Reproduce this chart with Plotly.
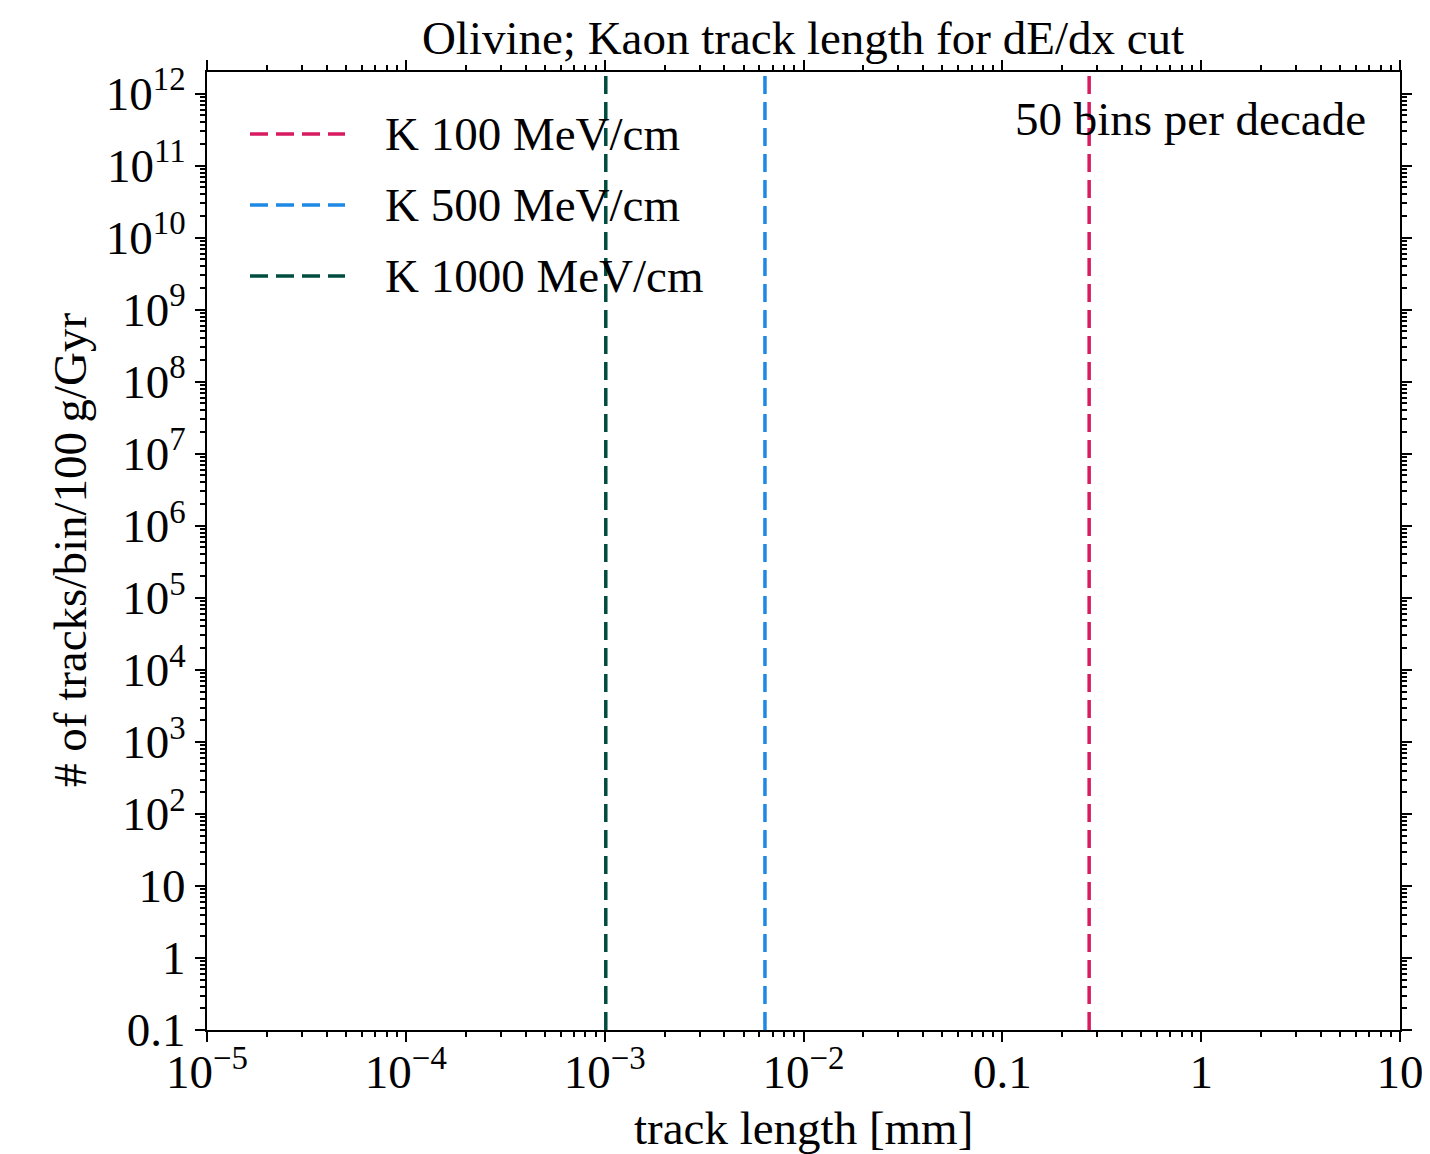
import plotly.graph_objects as go

# ---- data ----
series_names = ["K 100 MeV/cm", "K 500 MeV/cm", "K 1000 MeV/cm"]
series_colors = ["#D81B60", "#1E88E5", "#004D40"]
cut_lengths_mm = [0.2733, 6.40e-3, 1.013e-3]   # track length where dE/dx cut reached

x_range_log = [-5, 1]
y_range_log = [-1, 12.3]
x_tickvals = [1e-5, 1e-4, 1e-3, 1e-2, 0.1, 1, 10]
x_ticktext = ["10<sup>−5</sup>", "10<sup>−4</sup>", "10<sup>−3</sup>", "10<sup>−2</sup>", "0.1", "1", "10"]
y_tickvals = [10.0 ** e for e in range(-1, 13)]
y_ticktext = ["0.1", "1", "10"] + ["10<sup>%d</sup>" % e for e in range(2, 13)]

title_text = "Olivine; Kaon track length for dE/dx cut"
x_title = "track length [mm]"
y_title = "# of tracks/bin/100\u2009g/Gyr"
note_text = "50 bins per decade"

FONT = "Liberation Serif"
FS = 47

OFF = 8  # page body margin offset
W, H = 1430 - OFF, 1154 - OFF
L, R, T, B = 207 - OFF, 30, 72 - OFF, 124
pw, ph = W - L - R, H - T - B


def px_x(x):
    return (x - OFF - L) / pw


def px_y(y):
    return (H - B - (y - OFF)) / ph


fig = go.Figure()
ymin, ymax = 10 ** y_range_log[0], 10 ** y_range_log[1]
for name, col, xv in zip(series_names, series_colors, cut_lengths_mm):
    fig.add_trace(go.Scatter(
        x=[xv, xv], y=[ymin, ymax], mode="lines", name=name,
        line=dict(color=col, width=3.5, dash="18px,8px"), showlegend=False,
    ))

shapes = []
annotations = []
leg_y = [134, 205, 276]
for name, col, yy in zip(series_names, series_colors, leg_y):
    shapes.append(dict(type="line", xref="paper", yref="paper",
                       x0=px_x(250), x1=px_x(345), y0=px_y(yy), y1=px_y(yy),
                       line=dict(color=col, width=3.5, dash="18px,8px")))
    annotations.append(dict(xref="paper", yref="paper", x=px_x(383), y=px_y(yy),
                            xanchor="left", yanchor="middle", text=name, showarrow=False,
                            font=dict(family=FONT, size=FS, color="black")))

annotations.append(dict(xref="paper", yref="paper", x=px_x(1368), y=px_y(119),
                        xanchor="right", yanchor="middle", text=note_text, showarrow=False,
                        font=dict(family=FONT, size=FS, color="black")))
annotations.append(dict(xref="paper", yref="paper", x=px_x(70), y=px_y(550),
                        xanchor="center", yanchor="middle", text=y_title, textangle=-90,
                        showarrow=False, font=dict(family=FONT, size=FS, color="black")))
annotations.append(dict(xref="paper", yref="paper", x=px_x(803), y=px_y(1128),
                        xanchor="center", yanchor="middle", text=x_title,
                        showarrow=False, font=dict(family=FONT, size=FS, color="black")))

x_minor = [m * 10.0 ** e for e in range(-5, 1) for m in range(2, 10)]
y_minor = [m * 10.0 ** e for e in range(-1, 13) for m in range(2, 10) if m * 10.0 ** e < ymax]

axis_common = dict(
    type="log", showgrid=False, zeroline=False, showline=True, linecolor="black",
    linewidth=2, mirror="ticks", ticks="outside", ticklen=10, tickwidth=2,
    tickcolor="black", tickmode="array",
    tickfont=dict(family=FONT, size=FS, color="black"),
)

fig.update_layout(
    width=W, height=H,
    margin=dict(l=L, r=R, t=T, b=B, autoexpand=False),
    paper_bgcolor="white", plot_bgcolor="white",
    title=dict(text=title_text, x=px_x(803), xref="paper", y=1 - (38 - OFF) / H, yref="container",
               xanchor="center", yanchor="middle",
               font=dict(family=FONT, size=FS, color="black")),
    xaxis=dict(axis_common, range=x_range_log, tickvals=x_tickvals, ticktext=x_ticktext,
               ticklabelstandoff=-10,
               minor=dict(tickmode="array", tickvals=x_minor, ticks="outside", ticklen=5,
                          tickwidth=1.5, tickcolor="black", showgrid=False)),
    yaxis=dict(axis_common, range=y_range_log, tickvals=y_tickvals, ticktext=y_ticktext,
               minor=dict(tickmode="array", tickvals=y_minor, ticks="outside", ticklen=5,
                          tickwidth=1.5, tickcolor="black", showgrid=False)),
    shapes=shapes, annotations=annotations, showlegend=False,
)

fig.write_html("out.html")
